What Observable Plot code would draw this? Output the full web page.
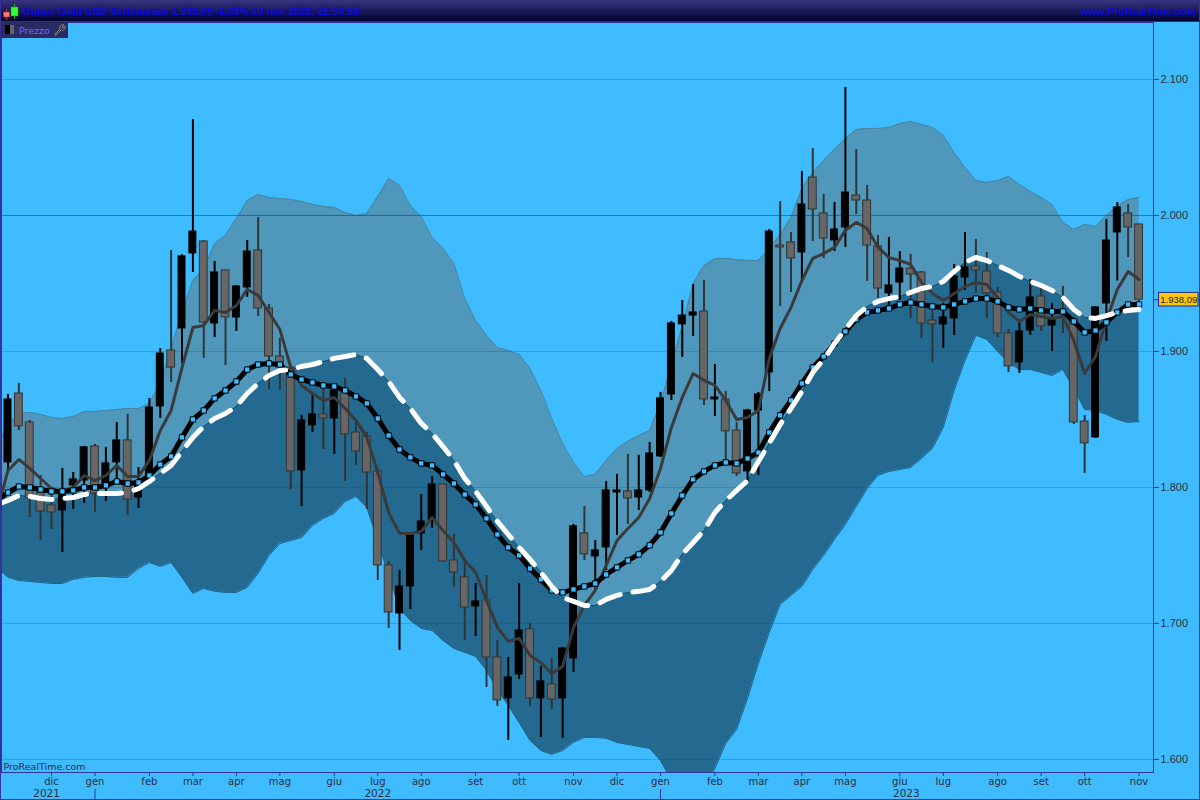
<!DOCTYPE html>
<html><head><meta charset="utf-8">
<script src="https://cdn.jsdelivr.net/npm/d3@7"></script>
<script src="https://cdn.jsdelivr.net/npm/@observablehq/plot@0.6"></script>
<style>
html,body{margin:0;padding:0;background:#3fbcff}
#wrap{position:relative;width:1200px;height:800px;overflow:hidden;font-family:"Liberation Sans",Arial,sans-serif}
#head{position:absolute;left:0;top:0;width:1200px;height:21px;background:linear-gradient(#37357f,#000033);border-bottom:1px solid #2c2c8c;box-sizing:content-box}
#title{position:absolute;left:23px;top:5px;font:bold 10.5px "Liberation Sans",Arial,sans-serif;color:#0a0ae6;white-space:nowrap}
#site{position:absolute;right:4px;top:5px;font:bold 10.5px "Liberation Sans",Arial,sans-serif;color:#0a0ae6;white-space:nowrap}
#icon{position:absolute;left:3px;top:4px}
#legend{position:absolute;left:1px;top:22px;width:67px;height:16px;background:#2b2b63}
#legend span.t{position:absolute;left:18px;top:3px;font:9.5px "DejaVu Sans",sans-serif;color:#6a6aff}
#legend i{position:absolute;top:3px;height:9px;display:block}
#border{position:absolute;left:0;top:0;width:1200px;height:800px;box-sizing:border-box;border-right:1px solid #33339a;border-bottom:1px solid #33339a;border-left:1px solid #33339a;pointer-events:none}
</style></head><body>
<div id="wrap">
<div id="chart"></div>
<div id="head">
<svg id="icon" width="16" height="17" viewBox="0 0 16 17"><path d="M3.5 5v11" stroke="#c33" stroke-width="1"/><path d="M11.5 0v15" stroke="#2a2" stroke-width="1"/><rect x=".5" y="8" width="6" height="5" fill="#f77" stroke="#a33" stroke-width=".5"/><rect x="8" y="3" width="7" height="9" fill="#3f3" stroke="#292" stroke-width=".5"/></svg>
<div id="title">Ounce Gold USD Settimanale 1.938,09 -1,03% 10 nov 2023, 22:59:58</div>
<div id="site">www.ProRealTime.com</div>
</div>
<div id="legend"><i style="left:4px;width:5px;background:#000"></i><i style="left:9px;width:4px;background:#666"></i><span class="t">Prezzo</span>
<svg style="position:absolute;left:52px;top:1px" width="13" height="13" viewBox="0 0 13 13"><path d="M1.5 11.5 L7 6 A3 3 0 0 1 11 2 L9 4 L10 5 L12 3 A3 3 0 0 1 8 7 L2.5 12.5 Z" fill="none" stroke="#888" stroke-width="1"/></svg></div>
<div id="border"></div>
</div>
<script>
const upperBand=[1830.9,
1845.6,1855.1,1855.1,1853.7,1851.5,1850.7,1852.2,1855.9,1855.9,1856.6,
1857.4,1858.1,1858.1,1861.8,1877.2,1902.2,1928.7,1952.2,1961.0,1979.4,
1985.3,1997.8,2011.0,2015.5,2013.2,2012.5,2011.7,2010.3,2008.1,2006.6,
2005.9,2002.2,2000.0,2001.5,2014.0,2027.2,2022.1,2007.3,1999.3,1983.8,
1975.8,1964.7,1938.9,1922.8,1911.8,1902.9,1900.7,1897.8,1887.5,1871.3,
1850.7,1832.4,1818.4,1808.1,1809.6,1819.9,1828.7,1833.9,1838.2,1841.9,
1862.5,1889.7,1919.1,1950.0,1963.2,1968.4,1968.4,1967.6,1966.9,1966.9,
1975.8,1986.1,1998.5,2019.9,2031.6,2040.5,2048.5,2056.6,2063.2,2064.0,
2064.0,2064.7,2067.7,2069.1,2066.9,2064.7,2058.8,2046.3,2035.3,2025.7,
2024.3,2025.7,2028.7,2022.8,2017.7,2013.2,2008.1,1994.9,1989.7,1993.4,
1991.9,2000.0,2007.3,2011.7,2013.2];
const middleWhite=[1787.5,
1790.4,1794.1,1793.4,1791.9,1791.1,1791.9,1792.6,1794.8,1795.6,1795.6,
1795.6,1796.3,1799.2,1804.4,1810.3,1816.2,1826.5,1836.8,1844.9,1850.7,
1854.4,1859.6,1869.1,1876.5,1882.3,1886.0,1886.7,1889.0,1890.4,1892.6,
1894.9,1896.3,1897.8,1894.9,1886.7,1877.9,1866.2,1858.1,1847.1,1839.7,
1830.1,1819.9,1806.6,1797.1,1786.0,1775.0,1765.4,1755.9,1747.1,1737.5,
1727.2,1719.1,1716.2,1713.2,1713.2,1717.7,1720.6,1722.8,1723.6,1725.0,
1730.9,1739.0,1750.8,1759.5,1768.4,1781.6,1790.4,1797.8,1805.1,1819.1,
1832.4,1846.3,1858.1,1870.6,1884.6,1894.1,1905.9,1916.2,1926.4,1933.1,
1936.8,1938.9,1940.4,1943.4,1946.3,1947.8,1951.5,1958.8,1965.5,1969.1,
1966.9,1963.2,1959.6,1955.2,1951.5,1948.5,1944.9,1939.7,1930.9,1925.0,
1924.3,1926.4,1928.7,1930.2,1930.9];
const averageBlack=[1790.4,
1796.3,1800.7,1800.0,1798.5,1797.1,1797.1,1797.8,1800.0,1800.0,1801.5,
1804.4,1802.9,1803.7,1808.8,1816.9,1822.8,1836.8,1850.0,1856.6,1865.5,
1871.3,1877.9,1886.7,1890.4,1891.2,1890.4,1883.1,1879.4,1877.2,1875.0,
1874.3,1871.3,1866.9,1861.8,1850.7,1838.2,1827.9,1822.1,1817.7,1816.2,
1809.6,1802.9,1794.8,1787.5,1777.2,1765.4,1755.9,1750.0,1740.4,1732.4,
1724.3,1722.8,1725.0,1727.2,1729.4,1736.0,1741.2,1746.3,1750.8,1757.4,
1766.9,1780.9,1794.1,1805.9,1811.8,1816.2,1818.4,1817.7,1821.3,1825.7,
1840.4,1853.0,1864.0,1876.5,1888.2,1896.3,1905.9,1914.7,1923.6,1928.7,
1930.2,1931.6,1934.6,1936.0,1934.6,1933.1,1932.4,1934.6,1936.8,1938.9,
1938.9,1936.8,1932.4,1930.9,1931.6,1930.2,1929.4,1929.4,1922.1,1914.0,
1915.4,1921.4,1928.7,1934.6,1934.6];
const averageGrey=[1783.1,
1812.5,1820.6,1814.0,1806.6,1799.2,1797.1,1800.0,1808.8,1805.1,1808.8,
1816.2,1808.1,1808.1,1819.9,1841.9,1856.6,1888.2,1917.6,1919.1,1930.2,
1928.7,1933.8,1945.6,1941.2,1928.7,1916.2,1888.2,1875.0,1869.1,1864.0,
1866.2,1858.1,1849.3,1836.8,1811.0,1781.6,1766.2,1766.2,1767.7,1777.9,
1768.4,1759.5,1746.3,1737.5,1716.9,1697.1,1686.8,1689.0,1676.5,1671.3,
1663.2,1668.4,1697.1,1713.2,1724.3,1742.7,1761.0,1769.8,1777.9,1791.9,
1814.0,1844.1,1866.2,1883.8,1878.7,1875.0,1864.0,1850.0,1851.5,1856.6,
1894.9,1916.9,1932.4,1952.2,1968.4,1972.0,1976.5,1989.0,1994.9,1990.4,
1976.5,1969.1,1966.9,1964.0,1950.7,1942.7,1937.5,1942.7,1947.8,1950.7,
1949.3,1939.7,1928.7,1922.1,1927.2,1925.7,1924.3,1925.7,1908.1,1883.8,
1896.3,1922.8,1945.6,1958.8,1952.9];
const lowerBand=[1741.2,
1733.9,1731.6,1730.9,1730.1,1729.4,1729.4,1732.4,1733.9,1734.6,1734.6,
1733.9,1733.9,1740.4,1744.8,1741.9,1744.8,1733.9,1722.1,1725.7,1723.6,
1722.8,1722.8,1726.5,1736.8,1750.0,1758.8,1761.0,1763.2,1772.0,1777.2,
1780.9,1789.7,1793.4,1785.3,1761.0,1735.3,1711.0,1702.2,1696.3,1694.8,
1687.5,1681.6,1678.7,1675.7,1665.4,1651.4,1639.7,1627.2,1614.0,1606.6,
1603.7,1606.6,1612.5,1616.2,1616.2,1615.5,1612.5,1611.0,1609.5,1608.1,
1599.3,1584.5,1577.2,1573.5,1577.2,1593.4,1611.8,1622.0,1644.9,1670.6,
1693.4,1714.0,1720.6,1727.2,1739.7,1750.0,1761.8,1772.8,1786.0,1799.2,
1808.8,1811.8,1813.2,1814.7,1821.3,1828.7,1844.1,1871.3,1893.4,1911.8,
1908.8,1900.0,1891.9,1886.7,1886.7,1884.6,1882.3,1886.7,1872.8,1857.4,
1856.6,1853.7,1850.0,1847.8,1848.5];
const bodyHigh=[1864.7,1869.1,1847.8,1796.3,1786.8,1797.8,1805.9,1829.5,1830.2,1817.7,
1834.6,1834.6,1803.7,1858.8,1898.5,1900.7,1969.9,1988.2,1980.9,1958.1,
1959.6,1947.8,1973.5,1974.3,1931.6,1896.3,1888.2,1849.3,1853.7,1853.7,
1871.3,1869.9,1840.4,1837.5,1811.8,1742.7,1727.2,1764.7,1775.0,1802.2,
1802.2,1746.3,1733.9,1716.2,1716.9,1675.0,1660.3,1694.8,1695.6,1657.4,
1655.2,1681.6,1771.4,1766.2,1753.7,1797.8,1797.8,1797.1,1797.8,1825.0,
1865.5,1920.6,1926.4,1928.7,1929.4,1866.2,1864.7,1841.9,1856.6,1868.4,
1988.2,1977.9,1980.2,2008.1,2027.9,2001.5,1989.7,2016.9,2014.7,2011.0,
1977.2,1948.5,1961.0,1961.0,1958.1,1922.8,1925.0,1955.2,1961.8,1962.5,
1958.8,1943.4,1913.2,1914.7,1939.7,1940.4,1923.6,1929.4,1922.8,1848.5,
1932.4,1981.6,2005.9,2001.5,1993.4];
const bodyLow=[1818.4,1844.9,1791.9,1782.4,1781.6,1783.1,1801.5,1805.1,1795.6,1800.0,
1818.4,1791.1,1792.6,1807.3,1859.6,1888.2,1916.9,1972.1,1921.3,1920.6,
1925.0,1925.0,1947.1,1931.6,1896.3,1888.2,1811.8,1812.5,1845.6,1850.7,
1850.7,1839.0,1826.5,1811.0,1742.7,1708.1,1707.4,1727.2,1766.2,1775.7,
1745.6,1737.5,1711.8,1712.5,1675.0,1643.4,1644.9,1662.5,1644.9,1644.9,
1644.1,1644.9,1674.3,1750.8,1749.3,1755.9,1796.3,1791.9,1792.6,1797.8,
1822.8,1868.4,1919.9,1926.4,1864.7,1864.7,1841.2,1810.3,1811.8,1856.6,
1884.6,1976.5,1968.4,1972.8,2004.4,1983.1,1981.6,1991.2,2011.0,1977.9,
1946.3,1942.7,1950.7,1956.6,1920.6,1919.9,1919.9,1924.3,1954.4,1959.6,
1942.7,1913.2,1889.0,1891.9,1915.4,1918.4,1919.1,1927.9,1847.8,1832.4,
1836.8,1935.3,1987.5,1991.2,1938.09];
const wickHigh=[1868.4,1876.5,1849.3,1808.8,1799.2,1814.0,1811.0,1830.2,1831.7,1829.5,
1847.8,1853.7,1814.7,1865.5,1902.2,1974.3,1971.3,2070.6,1981.6,1966.2,
1959.6,1948.5,1981.6,1998.5,1934.6,1909.6,1889.7,1853.0,1867.7,1872.8,
1875.0,1880.1,1847.8,1840.4,1812.5,1745.6,1739.0,1766.9,1794.8,1808.1,
1802.2,1765.4,1746.3,1729.4,1735.3,1687.5,1675.0,1729.4,1700.0,1668.4,
1674.3,1682.4,1772.8,1786.0,1761.0,1804.4,1809.6,1824.3,1823.6,1833.1,
1869.9,1922.1,1937.5,1949.3,1952.2,1890.4,1870.6,1847.8,1857.4,1869.9,
1989.7,2010.3,1987.5,2032.4,2049.3,2015.5,2009.6,2094.1,2048.5,2022.1,
1985.3,1983.8,1973.5,1971.3,1958.8,1930.9,1935.3,1964.0,1987.5,1982.4,
1972.8,1947.1,1916.2,1921.4,1952.9,1947.1,1935.3,1947.8,1925.0,1852.9,
1933.1,1997.1,2009.6,2008.1,1993.4];
const wickLow=[1811.8,1841.9,1777.9,1761.0,1769.1,1752.2,1783.8,1788.2,1781.6,1789.7,
1802.9,1779.4,1784.6,1805.1,1850.7,1877.2,1891.2,1958.1,1894.9,1910.3,
1889.7,1914.7,1939.7,1925.7,1872.1,1871.3,1798.5,1786.0,1840.4,1827.9,
1824.3,1804.4,1816.2,1783.8,1731.6,1696.3,1680.1,1710.3,1753.7,1769.9,
1744.9,1726.5,1687.5,1690.5,1652.9,1639.0,1614.0,1658.8,1639.0,1616.2,
1636.7,1615.5,1664.0,1746.3,1724.3,1739.0,1764.7,1772.8,1783.1,1796.3,
1822.1,1864.0,1895.6,1911.0,1860.3,1852.2,1819.9,1808.1,1803.7,1808.8,
1870.6,1933.1,1943.4,1950.0,1980.9,1968.4,1973.5,1976.5,2000.7,1951.5,
1938.9,1932.4,1937.5,1924.3,1909.6,1891.9,1902.2,1911.8,1944.9,1942.7,
1924.3,1910.3,1884.6,1883.9,1911.8,1914.7,1900.0,1913.2,1846.3,1810.3,
1836.0,1907.4,1951.8,1969.1,1936.8];
const direction="kggggkkkgk"+"kgkkkgkkgk"+"gkkggggkkg"+"kgggggkkkk"+"gggkggkkgk"+"gkkgkkkgkk"+"kkkkgkggkk"+"kggkggkkgg"+"gkkgggkkkg"+"gggkkgkggg"+"kkkgg";
const priceTicks=[1600,1700,1800,1900,2000,2100];
const priceTickLabels=["1.600","1.700","1.800","1.900","2.000","2.100"];
const monthBars=[4,8,13,17,21,25,30,34,38,43,47,52,56,60,65,69,73,77,82,86,91,95,99,104];
const monthNames=["dic","gen","feb","mar","apr","mag","giu","lug","ago","set","ott","nov","dic","gen","feb","mar","apr","mag","giu","lug","ago","set","ott","nov"];
const yearBars=[3.55,34,82.6];
const yearNames=["2021","2022","2023"];
const yearStartBars=[8,60];
const lastClose=1938.09;
const lastCloseLabel="1.938,09";

const lineBars=d3.range(-1,105);
const candleBars=d3.range(0,105);
const up=i=>direction[i]==="k";
const blackIdx=candleBars.filter(up), greyIdx=candleBars.filter(i=>!up(i));
const bwGrey=0.36, bwBlack=0.32;
const font="'DejaVu Sans',sans-serif";

const plot=Plot.plot({
  width:1200,height:800,marginLeft:1,marginRight:47,marginTop:22,marginBottom:28,
  style:{background:"#3fbcff",fontFamily:font,overflow:"visible"},
  x:{type:"linear",domain:[-0.598,105.33],range:[1,1153],axis:null},
  y:{type:"linear",domain:[1590.4,2141.9],range:[772,22],axis:null},
  marks:[
    Plot.areaY(lineBars,{x:d=>d,y1:d=>upperBand[d+1],y2:d=>middleWhite[d+1],fill:"#4f97bb",clip:true}),
    Plot.areaY(lineBars,{x:d=>d,y1:d=>middleWhite[d+1],y2:d=>lowerBand[d+1],fill:"#246a90",clip:true}),
    Plot.line(lineBars,{x:d=>d,y:d=>upperBand[d+1],stroke:"#47859f",strokeWidth:1,clip:true}),
    Plot.line(lineBars,{x:d=>d,y:d=>lowerBand[d+1],stroke:"#1f5f82",strokeWidth:1,clip:true}),
    Plot.line(lineBars,{x:d=>d,y:d=>middleWhite[d+1],stroke:"#16506f",strokeWidth:1,clip:true}),
    Plot.ruleY(priceTicks.filter(t=>t!==2000),{y:d=>d,stroke:"#0a3a5a",strokeOpacity:0.22,strokeWidth:1}),
    Plot.ruleY([2000],{y:d=>d,stroke:"#0a3a5a",strokeOpacity:0.5,strokeWidth:1}),
    Plot.ruleX(greyIdx,{x:d=>d,y1:i=>wickLow[i],y2:i=>wickHigh[i],stroke:"#333",strokeWidth:2}),
    Plot.ruleX(blackIdx,{x:d=>d,y1:i=>wickLow[i],y2:i=>wickHigh[i],stroke:"#000",strokeWidth:2}),
    Plot.rect(greyIdx,{x1:i=>i-bwGrey,x2:i=>i+bwGrey,y1:i=>bodyLow[i],y2:i=>bodyHigh[i],fill:"#666",stroke:"#333",strokeWidth:1}),
    Plot.rect(blackIdx,{x1:i=>i-bwBlack,x2:i=>i+bwBlack,y1:i=>bodyLow[i],y2:i=>bodyHigh[i],fill:"#000",stroke:"#000",strokeWidth:1}),
    Plot.line(lineBars,{x:d=>d,y:d=>averageGrey[d+1],stroke:"#3a3a3a",strokeWidth:3,clip:true}),
    Plot.line(lineBars,{x:d=>d,y:d=>averageBlack[d+1],stroke:"#000",strokeWidth:5,clip:true}),
    Plot.dot(candleBars,{x:d=>d,y:i=>averageBlack[i+1],symbol:"square",r:3,fill:"#3fbcff",stroke:"#000",strokeWidth:1}),
    Plot.line(lineBars,{x:d=>d,y:d=>middleWhite[d+1],stroke:"#fff",strokeWidth:5,strokeDasharray:"22,13",clip:true}),
    Plot.frame({stroke:"#33339a",strokeWidth:1}),
    Plot.axisY(priceTicks,{anchor:"right",tickSize:5,tickPadding:2,color:"#2d2d3d",stroke:"#33339a",fontSize:11,tickFormat:d=>priceTickLabels[priceTicks.indexOf(d)],label:null,fontFamily:"'Liberation Sans',sans-serif"}),
    Plot.axisY([lastClose],{anchor:"right",tickSize:5,stroke:"#33339a",tickFormat:()=>"",label:null}),
    Plot.rect([lastClose],{x1:105.84,x2:109.47,y1:d=>d-5,y2:d=>d+5,fill:"#fac80a",stroke:"#26268a",strokeWidth:1}),
    Plot.text([lastClose],{x:107.65,y:d=>d,text:()=>lastCloseLabel,fontSize:9.5,fill:"#222",fontFamily:"'Liberation Sans',sans-serif"}),
    Plot.axisX(monthBars,{tickSize:4,tickPadding:1,color:"#2d2d3d",stroke:"#33339a",fontSize:10,tickFormat:d=>monthNames[monthBars.indexOf(d)],label:null,anchor:"bottom"}),
    Plot.axisX(yearStartBars,{tickSize:10,dy:17,stroke:"#33339a",tickFormat:()=>"",label:null,anchor:"bottom"}),
    Plot.text(yearBars,{x:d=>d,frameAnchor:"bottom",dy:24.5,text:d=>yearNames[yearBars.indexOf(d)],fontSize:10.5,fill:"#2d2d3d"}),
    Plot.text(["ProRealTime.com"],{frameAnchor:"bottom-left",dx:2,dy:-3,text:d=>d,fontSize:9.5,fill:"#2d2d3d",letterSpacing:"0.45px"})
  ]
});
document.getElementById("chart").appendChild(plot);
</script>
</body></html>
